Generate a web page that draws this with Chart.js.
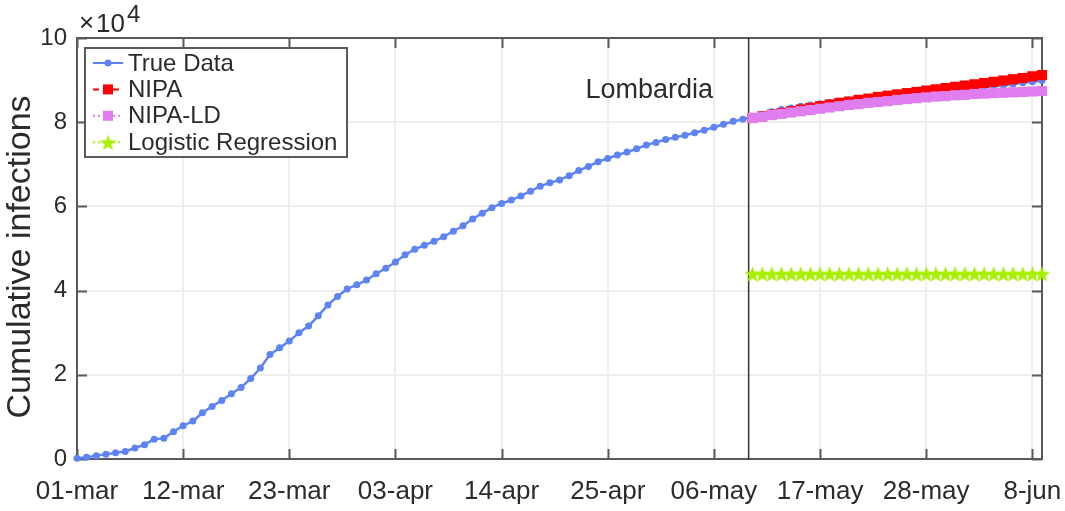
<!DOCTYPE html>
<html>
<head>
<meta charset="utf-8">
<script src="https://cdn.jsdelivr.net/npm/chart.js@4.4.1/dist/chart.umd.min.js"></script>
<style>
  html, body { margin: 0; padding: 0; background: #fff; }
  canvas { display: block; }
</style>
</head>
<body>
<canvas id="myChart" width="1065" height="511"></canvas>
<script>
'use strict';

// x = days since 01-mar, y = cumulative infections in units of 1e4
const xTickDays = [0, 11, 22, 33, 44, 55, 66, 77, 88, 99];
const xTickLabels = ['01-mar', '12-mar', '23-mar', '03-apr', '14-apr', '25-apr', '06-may', '17-may', '28-may', '8-jun'];
const yTicks = [0, 2, 4, 6, 8, 10];

// one value per day, 01-mar .. 09-jun
const trueCases = [
  0.02, 0.04, 0.08, 0.11, 0.15, 0.18, 0.26, 0.34, 0.47, 0.49,
  0.65, 0.79, 0.90, 1.10, 1.25, 1.39, 1.55, 1.70, 1.91, 2.16,
  2.48, 2.64, 2.80, 3.00, 3.16, 3.40, 3.66, 3.86, 4.04, 4.14,
  4.25, 4.40, 4.53, 4.68, 4.85, 4.98, 5.08, 5.17, 5.28, 5.41,
  5.54, 5.70, 5.84, 5.97, 6.07, 6.15, 6.25, 6.36, 6.48, 6.56,
  6.63, 6.73, 6.85, 6.95, 7.06, 7.14, 7.22, 7.29, 7.37, 7.46,
  7.52, 7.59, 7.64, 7.69, 7.75, 7.81, 7.88, 7.95, 8.02, 8.07,
  8.13, 8.19, 8.25, 8.30, 8.34, 8.38, 8.41, 8.44, 8.47, 8.50,
  8.53, 8.56, 8.59, 8.61, 8.64, 8.66, 8.68, 8.70, 8.72, 8.74,
  8.76, 8.78, 8.80, 8.82, 8.84, 8.86, 8.88, 8.91, 8.94, 8.96,
  8.99
];

// predictions start on day 70 (10-may)
const predStart = 70;
const nipa = [
  8.10, 8.14, 8.18, 8.22, 8.26, 8.30, 8.34, 8.38, 8.42, 8.46,
  8.49, 8.53, 8.56, 8.60, 8.63, 8.66, 8.69, 8.72, 8.75, 8.78,
  8.81, 8.84, 8.87, 8.90, 8.93, 8.96, 8.99, 9.02, 9.05, 9.09,
  9.12
];
const nipaLD = [
  8.10, 8.13, 8.17, 8.20, 8.23, 8.26, 8.29, 8.32, 8.35, 8.38,
  8.41, 8.43, 8.46, 8.48, 8.50, 8.53, 8.55, 8.57, 8.59, 8.61,
  8.62, 8.64, 8.65, 8.67, 8.68, 8.69, 8.70, 8.71, 8.72, 8.73,
  8.74
];
const logistic = [
  4.4, 4.4, 4.4, 4.4, 4.4, 4.4, 4.4, 4.4, 4.4, 4.4,
  4.4, 4.4, 4.4, 4.4, 4.4, 4.4, 4.4, 4.4, 4.4, 4.4,
  4.4, 4.4, 4.4, 4.4, 4.4, 4.4, 4.4, 4.4, 4.4, 4.4,
  4.4
];
const splitDay = 69.6;
const regionName = 'Lombardia';

const FONT = '"Liberation Sans", Arial, Helvetica, sans-serif';
const TEXT = '#2b2b2b';
const AXIS = '#5a5a5a';
const GRID = '#efefef';

const BLUE = '#5d83f4';
const RED = '#ff0000';
const PINK = '#e07ef0';
const GREEN = '#a8ef00';

function makeStar(color, size) {
  const c = document.createElement('canvas');
  c.width = size; c.height = size;
  const g = c.getContext('2d');
  const R = size / 2, r = R * 0.42;
  g.beginPath();
  for (let i = 0; i < 10; i++) {
    const rad = (i % 2 === 0) ? R : r;
    const a = -Math.PI / 2 + i * Math.PI / 5;
    const px = R + rad * Math.cos(a), py = R + rad * Math.sin(a) + 0.9;
    if (i === 0) g.moveTo(px, py); else g.lineTo(px, py);
  }
  g.closePath();
  g.fillStyle = color;
  g.fill();
  return c;
}
const starImg = makeStar(GREEN, 17);

const toPts = (arr, start) => arr.map((v, i) => ({ x: start + i, y: v }));

const legendItems = [
  { text: 'True Data', color: BLUE, dash: [], marker: 'circle' },
  { text: 'NIPA', color: RED, dash: [6, 4], marker: 'square' },
  { text: 'NIPA-LD', color: PINK, dash: [2, 3], marker: 'square' },
  { text: 'Logistic Regression', color: GREEN, dash: [2, 3], marker: 'star' }
];

const decorPlugin = {
  id: 'decor',
  beforeDatasetsDraw(chart) {
    const { ctx, chartArea: a, scales: { x, y } } = chart;
    ctx.save();
    // box
    ctx.strokeStyle = AXIS;
    ctx.lineWidth = 2;
    ctx.strokeRect(a.left, a.top, a.right - a.left, a.bottom - a.top);
    // inward ticks
    ctx.beginPath();
    xTickDays.forEach(d => {
      const px = Math.round(x.getPixelForValue(d)) + 0.5;
      ctx.moveTo(px, a.bottom); ctx.lineTo(px, a.bottom - 10);
      ctx.moveTo(px, a.top); ctx.lineTo(px, a.top + 10);
    });
    yTicks.forEach(v => {
      const py = Math.round(y.getPixelForValue(v)) + 0.5;
      ctx.moveTo(a.left, py); ctx.lineTo(a.left + 10, py);
      ctx.moveTo(a.right, py); ctx.lineTo(a.right - 10, py);
    });
    ctx.stroke();
    // split line
    const sx = x.getPixelForValue(splitDay);
    ctx.strokeStyle = '#333333';
    ctx.lineWidth = 1.5;
    ctx.beginPath();
    ctx.moveTo(sx, a.top); ctx.lineTo(sx, a.bottom);
    ctx.stroke();
    ctx.restore();
  },
  afterDraw(chart) {
    const { ctx, chartArea: a, scales: { x, y } } = chart;
    ctx.save();
    ctx.fillStyle = TEXT;
    // exponent
    ctx.textAlign = 'left';
    ctx.textBaseline = 'alphabetic';
    ctx.font = '26px ' + FONT;
    ctx.fillText('\u00d7', 79, 31);
    ctx.fillText('10', 96, 32);
    ctx.font = '24px ' + FONT;
    ctx.fillText('4', 127, 22);
    // y title
    ctx.save();
    ctx.translate(21, 257);
    ctx.rotate(-Math.PI / 2);
    ctx.textAlign = 'center';
    ctx.textBaseline = 'middle';
    ctx.font = '34px ' + FONT;
    ctx.fillText('Cumulative infections', 0, 0);
    ctx.restore();
    // region label
    ctx.textAlign = 'center';
    ctx.textBaseline = 'middle';
    ctx.font = '27px ' + FONT;
    ctx.fillText(regionName, x.getPixelForValue(59.3), y.getPixelForValue(8.75));
    // legend
    const lx = a.left + 8, ly = a.top + 10, lw = 262, lh = 109;
    ctx.fillStyle = '#ffffff';
    ctx.fillRect(lx, ly, lw, lh);
    ctx.strokeStyle = AXIS;
    ctx.lineWidth = 2;
    ctx.strokeRect(lx, ly, lw, lh);
    ctx.font = '24px ' + FONT;
    ctx.textAlign = 'left';
    legendItems.forEach((it, i) => {
      const cy = ly + 15 + i * 26.4;
      ctx.strokeStyle = it.color;
      ctx.lineWidth = 2;
      ctx.setLineDash(it.dash);
      ctx.beginPath();
      ctx.moveTo(lx + 8, cy); ctx.lineTo(lx + 38, cy);
      ctx.stroke();
      ctx.setLineDash([]);
      const mx = lx + 23;
      ctx.fillStyle = it.color;
      if (it.marker === 'circle') {
        ctx.beginPath(); ctx.arc(mx, cy, 3.5, 0, Math.PI * 2); ctx.fill();
      } else if (it.marker === 'square') {
        ctx.fillRect(mx - 5, cy - 5, 10, 10);
      } else {
        ctx.drawImage(starImg, mx - starImg.width / 2, cy - starImg.height / 2);
      }
      ctx.fillStyle = TEXT;
      ctx.fillText(it.text, lx + 43, cy + 1);
    });
    ctx.restore();
  }
};

const ctx = document.getElementById('myChart').getContext('2d');
const myChart = new Chart(ctx, {
  type: 'line',
  data: {
    datasets: [
      {
        label: 'True Data',
        data: toPts(trueCases, 0),
        borderColor: BLUE, backgroundColor: BLUE,
        borderWidth: 2.5, pointRadius: 3.5, pointBorderWidth: 0,
        pointBackgroundColor: BLUE, order: 4, clip: false
      },
      {
        label: 'NIPA',
        data: toPts(nipa, predStart),
        borderColor: RED, backgroundColor: RED,
        borderWidth: 2, borderDash: [6, 4],
        pointStyle: 'rect', pointRadius: 7.2, pointBorderWidth: 0,
        pointBackgroundColor: RED, order: 3, clip: false
      },
      {
        label: 'NIPA-LD',
        data: toPts(nipaLD, predStart),
        borderColor: PINK, backgroundColor: PINK,
        borderWidth: 2, borderDash: [2, 3],
        pointStyle: 'rect', pointRadius: 7.2, pointBorderWidth: 0,
        pointBackgroundColor: PINK, order: 2, clip: false
      },
      {
        label: 'Logistic Regression',
        data: toPts(logistic, predStart),
        borderColor: GREEN, backgroundColor: GREEN,
        borderWidth: 2, borderDash: [2, 3],
        pointStyle: starImg, pointRadius: 6, pointBorderWidth: 0,
        order: 1, clip: false
      }
    ]
  },
  options: {
    responsive: false,
    animation: false,
    devicePixelRatio: 1,
    events: [],
    layout: { padding: { top: 38, right: 23, left: 0, bottom: 0 } },
    plugins: { legend: { display: false }, tooltip: { enabled: false } },
    elements: { line: { tension: 0 } },
    scales: {
      x: {
        type: 'linear', min: 0, max: 100,
        afterBuildTicks: s => { s.ticks = xTickDays.map(v => ({ value: v })); },
        afterFit: s => { s.height = 52; s.paddingLeft = 0; s.paddingRight = 0; },
        ticks: {
          autoSkip: false, maxRotation: 0, padding: 17,
          color: TEXT, font: { family: FONT, size: 26 },
          callback: v => xTickLabels[xTickDays.indexOf(v)]
        },
        grid: { color: GRID, lineWidth: 2, drawTicks: false },
        border: { display: false }
      },
      y: {
        min: 0, max: 10,
        afterBuildTicks: s => { s.ticks = yTicks.map(v => ({ value: v })); },
        afterFit: s => { s.width = 77; },
        ticks: {
          padding: 10, color: TEXT, font: { family: FONT, size: 24 }
        },
        grid: { color: GRID, lineWidth: 2, drawTicks: false },
        border: { display: false }
      }
    }
  },
  plugins: [decorPlugin]
});
</script>
</body>
</html>
